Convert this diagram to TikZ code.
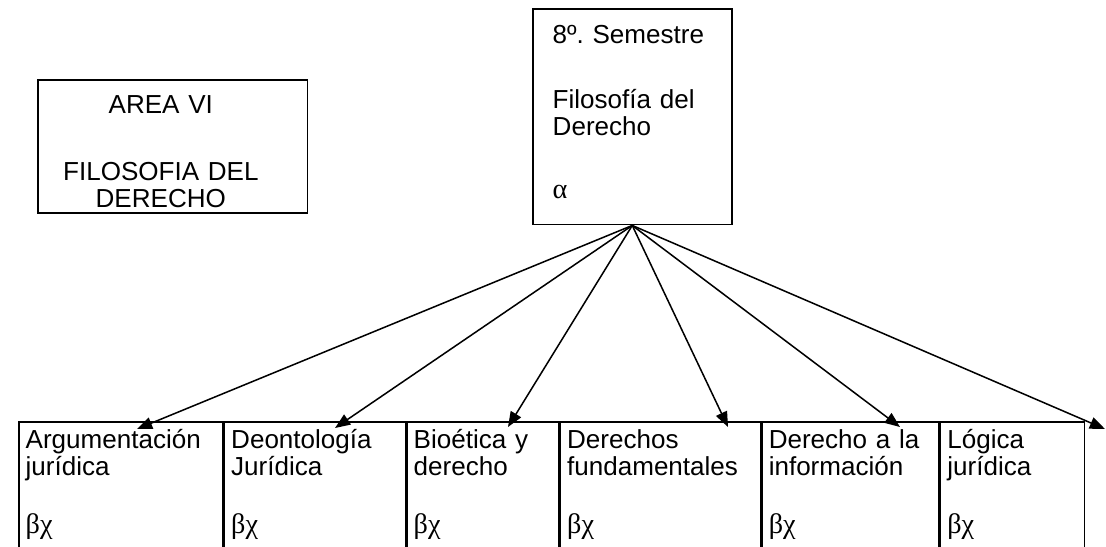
\documentclass[tikz,border=0pt]{standalone}
\usepackage{fontspec}
\setmainfont{Liberation Sans}
\newfontfamily\greekfont{Liberation Serif}
\frenchspacing
\usetikzlibrary{arrows.meta}
\tikzstyle{box} = [rectangle, draw=black, line width=0.7pt, inner ysep=0pt, font=\fontsize{12}{12.44}\selectfont]
\tikzstyle{course} = [box, anchor=north west, inner xsep=3.2pt, align=left, text height=12.44pt, text depth=60pt]
\tikzstyle{arrow} = [line width=0.7pt,-{Triangle[length=7pt,width=5.5pt]}]

\begin{document}
\begin{tikzpicture}[x=0.4608pt, y=-0.4608pt]
\useasboundingbox (0,0) rectangle (1106,546);
\clip (0,0) rectangle (1106,546);

\node (area) [box, anchor=north west, inner xsep=4pt, text width=116.4pt, align=center, text height=15.7pt, text depth=45.6pt] at (37,79) {AREA VI\rule{11pt}{0pt}\\[18.4pt]FILOSOFIA DEL\rule{11pt}{0pt}\\DERECHO\rule{11pt}{0pt}};

\node (sem) [box, anchor=north west, inner xsep=9.2pt, text width=73.3pt, align=left, text height=16.1pt, text depth=83.4pt] at (532,8) {8º. Semestre\\[17.5pt]Filosofía del\\Derecho\\[16.6pt]{\greekfont\fontsize{13}{12.44}\selectfont α}};

\node (argu) [course, text width=87.6pt] at (18,421) {Argumentación\\jurídica\\[14.3pt]{\greekfont\fontsize{13}{12.44}\selectfont βχ}};
\node (deon) [course, text width=77pt] at (argu.north east) {Deontología\\Jurídica\\[14.3pt]{\greekfont\fontsize{13}{12.44}\selectfont βχ}};
\node (bioe) [course, text width=63.6pt] at (deon.north east) {Bioética y\\derecho\\[14.3pt]{\greekfont\fontsize{13}{12.44}\selectfont βχ}};
\node (dfun) [course, text width=85.8pt] at (bioe.north east) {Derechos\\fundamentales\\[14.3pt]{\greekfont\fontsize{13}{12.44}\selectfont βχ}};
\node (dinf) [course, text width=75.2pt] at (dfun.north east) {Derecho a la\\información\\[14.3pt]{\greekfont\fontsize{13}{12.44}\selectfont βχ}};
\node (logi) [course, text width=60pt] at (dinf.north east) {Lógica\\jurídica\\[14.3pt]{\greekfont\fontsize{13}{12.44}\selectfont βχ}};

% arrow ends
\coordinate (targu) at (137,429);
\coordinate (tdeon) at (335,428);
\coordinate (tbioe) at (508,427);
\coordinate (tdfun) at (728,427);
\coordinate (tdinf) at (900,427);
\coordinate (tlogi) at (1105,429);

\draw [arrow] (sem.south) -- (targu);
\draw [arrow] (sem.south) -- (tdeon);
\draw [arrow] (sem.south) -- (tbioe);
\draw [arrow] (sem.south) -- (tdfun);
\draw [arrow] (sem.south) -- (tdinf);
\draw [arrow] (sem.south) -- (tlogi);

\end{tikzpicture}
\end{document}
